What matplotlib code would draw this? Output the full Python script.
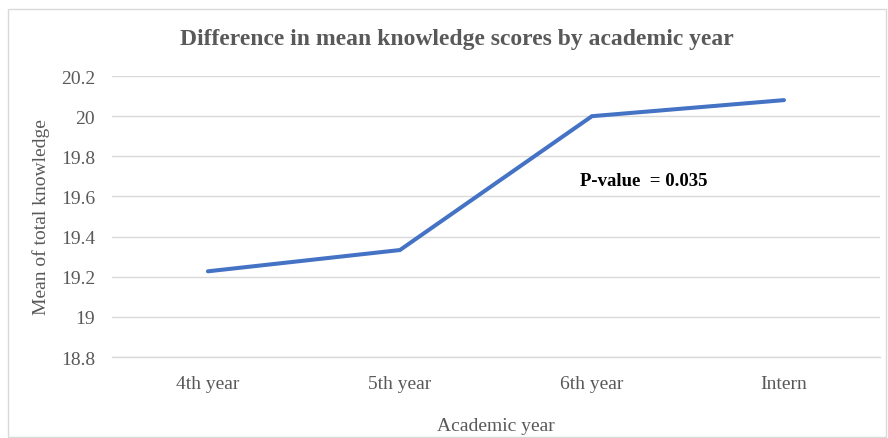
import matplotlib.pyplot as plt
from matplotlib.patches import Rectangle

years = ['4th year', '5th year', '6th year', 'Intern']
mean_scores = [19.227, 19.333, 20.0, 20.08]
y_ticks = [18.8, 19.0, 19.2, 19.4, 19.6, 19.8, 20.0, 20.2]
y_tick_labels = ['18.8', '19', '19.2', '19.4', '19.6', '19.8', '20', '20.2']

plt.rcParams['font.family'] = ['Liberation Serif', 'DejaVu Serif']
text_gray = '#595959'
grid_gray = '#d9d9d9'

fig = plt.figure(figsize=(8.88, 4.39), dpi=100)
ax = fig.add_axes([0.126, 0.1845, 0.865, 0.640])

x = list(range(len(years)))
ax.plot(x, mean_scores, color='#4472C4', linewidth=2.9, solid_capstyle='round',
        solid_joinstyle='miter', zorder=3)

ax.set_xlim(-0.5, len(years) - 0.5)
ax.set_ylim(18.8, 20.2)
ax.set_yticks(y_ticks)
ax.set_yticklabels(y_tick_labels)
ax.set_xticks(x)
ax.set_xticklabels(years)
ax.grid(axis='y', color=grid_gray, linewidth=1.0)
ax.set_axisbelow(True)
ax.tick_params(length=0, colors=text_gray, labelsize=14)
ax.tick_params(axis='x', pad=13)
ax.tick_params(axis='y', pad=12)
for s in ax.spines.values():
    s.set_visible(False)
ax.spines['bottom'].set_visible(True)
ax.spines['bottom'].set_color(grid_gray)
ax.spines['bottom'].set_linewidth(1.0)

ax.set_ylabel('Mean of total knowledge', color=text_gray, fontsize=14, labelpad=8)
ax.set_xlabel('Academic year', color=text_gray, fontsize=14, labelpad=18)

fig.text(0.515, 0.909, 'Difference in mean knowledge scores by academic year',
         ha='center', va='center', fontsize=17, fontweight='bold', color=text_gray)
ax.text(2.27, 19.68, 'P-value  = 0.035', ha='center', va='center', fontsize=13.5,
        fontweight='bold', color='black')

fig.patches.append(Rectangle((8 / 888, 1 / 439), 878 / 888, 428 / 439,
                             transform=fig.transFigure, fill=False,
                             edgecolor='#d9d9d9', linewidth=1.0))

fig.savefig('out.png', dpi=100)
